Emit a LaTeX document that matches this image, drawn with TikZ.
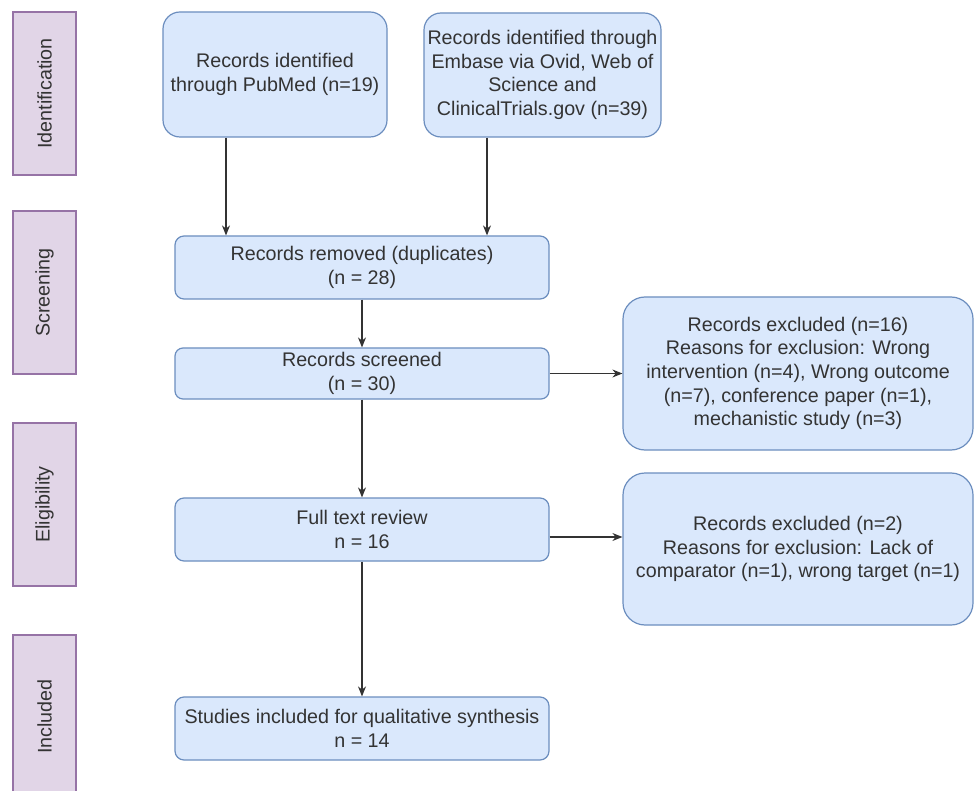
\documentclass[tikz,border=0pt]{standalone}
\usepackage{fontspec}
\setmainfont{Liberation Sans}
\usetikzlibrary{arrows.meta}
\definecolor{txt}{HTML}{333333}
\definecolor{bfill}{HTML}{DAE8FC}
\definecolor{bdraw}{HTML}{6C8EBF}
\definecolor{pfill}{HTML}{E1D5E7}
\definecolor{pdraw}{HTML}{9673A6}
\begin{document}
\begin{tikzpicture}[x=1pt,y=-1pt,
  every node/.style={font=\fontsize{19.7}{23.7}\selectfont, text=txt, inner sep=0pt, align=center},
  bbox/.style={draw=bdraw, fill=bfill, line width=1.2pt},
  stage/.style={draw=pdraw, fill=pfill, line width=1.2pt, minimum width=63pt, minimum height=163pt},
  arr/.style={draw=black!80, line width=1.4pt, -{Stealth[length=10pt,width=8pt]}}]
\clip (0,0) rectangle (974,791);
\fill[white] (0,0) rectangle (974,791);
% stage labels
\node[stage] (idlab) at (44.5,93.5) {};
\node[rotate=90] at (idlab.center) {Identification};
\node[stage] (scrlab) at (44.5,292.5) {};
\node[rotate=90] at (scrlab.center) {Screening};
\node[stage] (elilab) at (44.5,504.5) {};
\node[rotate=90] at (elilab.center) {Eligibility};
\node[stage] (inclab) at (44.5,716.5) {};
\node[rotate=90] at (inclab.center) {Included};
% boxes
\node[bbox, rounded corners=17pt, minimum width=224pt, minimum height=125pt] (pubmed) at (275,74.5)
  {Records identified\\through PubMed (n=19)};
\node[bbox, rounded corners=17pt, minimum width=237pt, minimum height=124pt] (embase) at (542.5,75)
  {Records identified through\\Embase via Ovid, Web of\\Science and\\ClinicalTrials.gov (n=39)};
\node[bbox, rounded corners=9pt, minimum width=374pt, minimum height=63pt] (removed) at (362,267.5)
  {Records removed (duplicates)\\(n = 28)};
\node[bbox, rounded corners=8pt, minimum width=374pt, minimum height=51pt] (screened) at (362,373.5)
  {Records screened\\(n = 30)};
\node[bbox, rounded corners=9pt, minimum width=374pt, minimum height=63pt] (fulltext) at (362,529.5)
  {Full text review\\n = 16};
\node[bbox, rounded corners=9pt, minimum width=374pt, minimum height=63pt] (included) at (362,728.5)
  {Studies included for qualitative synthesis\\n = 14};
\node[bbox, rounded corners=22pt, minimum width=350pt, minimum height=153pt] (excla) at (798,373.5)
  {Records excluded (n=16)\\Reasons for exclusion: Wrong\\intervention (n=4), Wrong outcome\\(n=7), conference paper (n=1),\\mechanistic study (n=3)};
\node[bbox, rounded corners=22pt, minimum width=350pt, minimum height=152pt] (exclb) at (798,549)
  {Records excluded (n=2)\\Reasons for exclusion: Lack of\\comparator (n=1), wrong target (n=1)};
% connectors
\coordinate (pa) at ([xshift=-49pt]pubmed.south);
\coordinate (ea) at ([xshift=-55.5pt]embase.south);
\draw[arr] (pa) -- (pa |- removed.north);
\draw[arr] (ea) -- (ea |- removed.north);
\draw[arr] (removed) -- (screened);
\draw[arr] (screened) -- (fulltext);
\draw[arr] (fulltext) -- (included);
\draw[arr] (screened.east) -- (excla.west);
\coordinate (fa) at ([yshift=-7.5pt]fulltext.east);
\draw[arr] (fa) -- (fa -| exclb.west);
\end{tikzpicture}
\end{document}
